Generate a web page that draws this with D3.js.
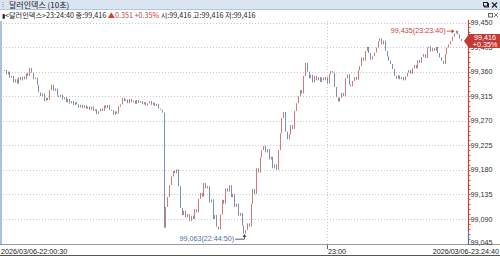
<!DOCTYPE html>
<html><head><meta charset="utf-8">
<script src="https://cdn.jsdelivr.net/npm/d3@7"></script>
<style>
html,body{margin:0;padding:0;background:#fff;overflow:hidden;}
svg{display:block;}
</style></head>
<body>
<svg id="c" width="500" height="256"></svg>
<script>
// ---------------- data ----------------
const chartTitle = "달러인덱스 (10초)";
const symbolName = "달러인덱스";
const infoTime = "23:24:40";
const firstCandleTime = "22:00:40";
const stepSeconds = 20;
const domainStart = "22:00:30";
const domainEnd = "23:24:40";
const closes = [
 99.363, 99.355, 99.360, 99.349, 99.352, 99.340, 99.346, 99.338, 99.350, 99.344,
 99.351, 99.346, 99.357, 99.352, 99.367, 99.358, 99.346, 99.349, 99.336, 99.322,
 99.315, 99.320, 99.306, 99.312, 99.308, 99.326, 99.336, 99.325, 99.329, 99.316,
 99.313, 99.318, 99.309, 99.313, 99.304, 99.310, 99.302, 99.306, 99.299, 99.304,
 99.300, 99.294, 99.299, 99.293, 99.298, 99.292, 99.296, 99.290, 99.296, 99.288,
 99.291, 99.282, 99.287, 99.292, 99.288, 99.298, 99.293, 99.299, 99.290, 99.289,
 99.281, 99.287, 99.283, 99.296, 99.300, 99.312, 99.306, 99.309, 99.302, 99.310,
 99.304, 99.307, 99.301, 99.308, 99.303, 99.306, 99.300, 99.304, 99.298, 99.302,
 99.306, 99.299, 99.303, 99.297, 99.301, 99.292, 99.290, 99.285,
 99.074, 99.112, 99.130, 99.152, 99.168, 99.178, 99.174, 99.181, 99.150, 99.110,
 99.097, 99.105, 99.093, 99.099, 99.086, 99.096, 99.090, 99.108, 99.102, 99.127,
 99.138, 99.131, 99.156, 99.146, 99.150, 99.120, 99.126, 99.090, 99.097, 99.076,
 99.071, 99.098, 99.125, 99.118, 99.146, 99.140, 99.152, 99.130, 99.136, 99.112,
 99.118, 99.096, 99.101, 99.078, 99.063,
 99.070, 99.082, 99.076, 99.118, 99.145, 99.136, 99.183, 99.175, 99.203, 99.216,
 99.224, 99.212, 99.218, 99.199, 99.204, 99.183, 99.190, 99.180, 99.216, 99.247,
 99.275, 99.286, 99.250, 99.236, 99.245, 99.262, 99.255, 99.288, 99.302, 99.315,
 99.326, 99.320, 99.352, 99.376, 99.360, 99.348, 99.354, 99.340, 99.352, 99.344,
 99.350, 99.341, 99.349, 99.344, 99.350, 99.338, 99.355, 99.361, 99.358, 99.332,
 99.313, 99.305, 99.312, 99.321, 99.315, 99.348, 99.355, 99.336, 99.333, 99.343,
 99.350, 99.345, 99.362, 99.370, 99.386, 99.380, 99.398, 99.405, 99.394, 99.382,
 99.388, 99.395, 99.404, 99.416, 99.421, 99.410, 99.417, 99.398, 99.388, 99.380,
 99.374, 99.365, 99.352, 99.347, 99.353, 99.346, 99.350, 99.344, 99.351, 99.358,
 99.363, 99.356, 99.366, 99.372, 99.366, 99.381, 99.376, 99.387, 99.392, 99.385,
 99.404, 99.406, 99.397, 99.403, 99.398, 99.405, 99.394, 99.386, 99.380, 99.374,
 99.392, 99.404, 99.410, 99.416, 99.424, 99.430, 99.435, 99.428, 99.420, 99.416
];
const prevClose = 99.065;
const infoLabels = ["종", "시", "고", "저"];
const infoValues = [99.416, 99.416, 99.416, 99.416];
const yTicks = [99.045, 99.090, 99.135, 99.180, 99.225, 99.270, 99.315, 99.360, 99.405, 99.450];
const yDomain = [99.045, 99.450];
const xTickTimes = ["23:00:00"];
const xTickLabels = ["23:00"];
const xEdgeLabels = ["2026/03/06-22:00:30", "2026/03/06-23:24:40"];
const markValues = [99.435, 99.063];
const markTimes = ["23:23:40", "22:44:50"];

// ---------------- helpers ----------------
const fmt = v => d3.format(".3f")(v).replace(".", ",");
const parseT = d3.timeParse("%H:%M:%S");
const NUMF = "'Liberation Sans', Arial, sans-serif";
const KRF = "'Noto Sans CJK KR', 'Liberation Sans', sans-serif";
const RED = "#c8413b", BLUE = "#4d72a8";
const UP = "#d3797a", DOWN = "#7891b6";

const svg = d3.select("#c");
const W = 500, H = 256;
const plot = {left: 3, right: 467, top: 21, bottom: 244.5};
const axisX = 468;

const x = d3.scaleTime().domain([parseT(domainStart), parseT(domainEnd)]).range([3, 461]);
const y = d3.scaleLinear().domain(yDomain).range([243.5, 22.5]);

const t0 = parseT(firstCandleTime).getTime();
const candles = closes.map((c, i) => ({
  t: new Date(t0 + i * stepSeconds * 1000),
  open: i === 0 ? c : closes[i - 1],
  close: c
}));

svg.append("rect").attr("width", W).attr("height", H).attr("fill", "#fff");

// title bar
svg.append("rect").attr("x", 0).attr("y", 0).attr("width", W).attr("height", 9.5).attr("fill", "#dbe5f1");
svg.append("line").attr("x1", 0).attr("x2", W).attr("y1", 9.5).attr("y2", 9.5).attr("stroke", "#b7c7db");
[2, 4, 6].forEach(yy => svg.append("rect").attr("x", 2.5).attr("y", yy).attr("width", 1).attr("height", 1).attr("fill", "#8a9bb0"));
svg.append("text").attr("x", 9).attr("y", 8).attr("font-family", KRF).attr("font-size", 8)
  .attr("fill", "#1a1a1a").text(chartTitle);
// window buttons
svg.append("rect").attr("x", 484.5).attr("y", 3.5).attr("width", 4).attr("height", 3.5).attr("fill", "none").attr("stroke", "#222").attr("stroke-width", 1);
svg.append("rect").attr("x", 483.5).attr("y", 2.5).attr("width", 4).attr("height", 3.5).attr("fill", "#dbe5f1").attr("stroke", "#222").attr("stroke-width", 1);
svg.append("path").attr("d", "M492,2.5 L497,7.5 M497,2.5 L492,7.5").attr("stroke", "#222").attr("stroke-width", 1.2);

// info line
const last = closes[closes.length - 1];
const chg = last - prevClose;
const pct = chg / prevClose * 100;
const info = svg.append("text").attr("x", 2).attr("y", 18).attr("font-family", KRF).attr("font-size", 7.2).attr("fill", "#222");
info.append("tspan").text("▮").attr("font-size", 6);
info.append("tspan").text("<" + symbolName + ">" + infoTime + " " + infoLabels[0] + ":" + fmt(infoValues[0]) + " ");
info.append("tspan").attr("fill", RED).text("▲" + d3.format(".3f")(chg) + " +" + d3.format(".2f")(pct) + "% ");
info.append("tspan").text(infoLabels.slice(1).map((l, i) => l + ":" + fmt(infoValues[i + 1])).join(" "));

// small icons at right under title
svg.append("rect").attr("x", 488.5).attr("y", 13.5).attr("width", 4).attr("height", 3.5).attr("fill", "none").attr("stroke", "#666");
svg.append("path").attr("d", "M494,13 L498,17 M498,13 L494,17").attr("stroke", "#666").attr("stroke-width", 0.9);

// left stripe
svg.append("rect").attr("x", 0).attr("y", plot.top).attr("width", 2).attr("height", plot.bottom - plot.top).attr("fill", "#a9c0de");

// grid
svg.append("g").selectAll("line").data(yTicks).join("line")
  .attr("x1", plot.left).attr("x2", axisX - 1)
  .attr("y1", d => Math.round(y(d)) + 0.5).attr("y2", d => Math.round(y(d)) + 0.5)
  .attr("stroke", "#c9c9c9").attr("stroke-dasharray", "1,2");
svg.append("g").selectAll("line").data(xTickTimes).join("line")
  .attr("x1", d => Math.round(x(parseT(d))) + 0.5).attr("x2", d => Math.round(x(parseT(d))) + 0.5)
  .attr("y1", plot.top).attr("y2", plot.bottom)
  .attr("stroke", "#c9c9c9").attr("stroke-dasharray", "1,2");

// candles
svg.append("defs").append("clipPath").attr("id", "pc").append("rect")
  .attr("x", plot.left).attr("y", plot.top).attr("width", axisX - plot.left).attr("height", plot.bottom - plot.top);
svg.append("g").attr("clip-path", "url(#pc)").selectAll("rect").data(candles).join("rect")
  .attr("x", d => Math.round(x(d.t)))
  .attr("width", 1)
  .attr("y", d => Math.min(y(d.open), y(d.close)))
  .attr("height", d => Math.max(1, Math.abs(y(d.open) - y(d.close))))
  .attr("fill", d => d.close >= d.open ? UP : DOWN);

// bottom axis line
svg.append("line").attr("x1", 0).attr("x2", W).attr("y1", 244.5).attr("y2", 244.5).attr("stroke", "#9a9a9a");
svg.append("line").attr("x1", 0).attr("x2", W).attr("y1", 255.5).attr("y2", 255.5).attr("stroke", "#555");

// right axis
const yPrev = y(prevClose);
svg.append("line").attr("x1", axisX + 0.5).attr("x2", axisX + 0.5).attr("y1", 20).attr("y2", yPrev).attr("stroke", RED).attr("stroke-width", 1.2);
svg.append("line").attr("x1", axisX + 0.5).attr("x2", axisX + 0.5).attr("y1", yPrev).attr("y2", 245).attr("stroke", BLUE).attr("stroke-width", 1.2);
const minorTicks = d3.range(0, 46).map(k => yDomain[0] + k * 0.009);
svg.append("g").selectAll("line").data(minorTicks).join("line")
  .attr("x1", axisX + 1).attr("x2", axisX + 2.5)
  .attr("y1", d => Math.round(y(d)) + 0.5).attr("y2", d => Math.round(y(d)) + 0.5)
  .attr("stroke", d => d >= prevClose ? RED : BLUE).attr("stroke-width", 0.8);
svg.append("g").selectAll("text").data(yTicks).join("text")
  .attr("x", axisX + 2.5).attr("y", (d, i) => y(d) + (i === 0 ? 1.2 : 2.6))
  .attr("font-family", NUMF).attr("font-size", 7.2).attr("fill", "#333")
  .text(fmt);

// x labels
svg.append("text").attr("x", 1).attr("y", 254).attr("font-family", NUMF).attr("font-size", 7.2).attr("fill", "#222").text(xEdgeLabels[0]);
svg.append("text").attr("x", 499).attr("y", 254).attr("text-anchor", "end").attr("font-family", NUMF).attr("font-size", 7.2).attr("fill", "#222").text(xEdgeLabels[1]);
xTickTimes.forEach((tt, i) => {
  const xx = Math.round(x(parseT(tt))) + 0.5;
  svg.append("line").attr("x1", xx).attr("x2", xx).attr("y1", 245).attr("y2", 249).attr("stroke", "#666");
  svg.append("text").attr("x", xx + 0.5).attr("y", 254).attr("font-family", NUMF).attr("font-size", 7.2).attr("fill", "#222").text(xTickLabels[i]);
});

// max annotation
{
  const px = x(parseT(markTimes[0])), py = y(markValues[0]);
  svg.append("text").attr("x", px - 10).attr("y", py + 2.5).attr("text-anchor", "end")
    .attr("font-family", NUMF).attr("font-size", 7.2).attr("fill", RED)
    .text(fmt(markValues[0]) + "(" + markTimes[0] + ")");
  svg.append("line").attr("x1", px - 9).attr("x2", px - 3).attr("y1", py + 0.5).attr("y2", py + 0.5).attr("stroke", RED).attr("stroke-width", 0.8);
  svg.append("path").attr("d", `M${px - 1},${py + 0.5} L${px - 4},${py - 1.5} L${px - 4},${py + 2.5} Z`).attr("fill", RED);
}
// min annotation
{
  const px = x(parseT(markTimes[1])), py = y(markValues[1]);
  svg.append("text").attr("x", px - 10).attr("y", py + 7.5).attr("text-anchor", "end")
    .attr("font-family", NUMF).attr("font-size", 7.2).attr("fill", BLUE)
    .text(fmt(markValues[1]) + "(" + markTimes[1] + ")");
  svg.append("path").attr("d", `M${px - 9},${py + 5.5} L${Math.round(px) + 0.5},${py + 5.5} L${Math.round(px) + 0.5},${py + 2.5}`)
    .attr("fill", "none").attr("stroke", "#333").attr("stroke-width", 0.8);
  svg.append("path").attr("d", `M${Math.round(px) + 0.5},${py + 0.5} L${Math.round(px) - 1.5},${py + 3} L${Math.round(px) + 2.5},${py + 3} Z`).attr("fill", "#333");
}

// last price tag
{
  const py = y(last);
  svg.append("path").attr("d", `M${axisX - 4},${py} L${axisX + 1},${py - 7} L500,${py - 7} L500,${py + 7} L${axisX + 1},${py + 7} Z`)
    .attr("fill", "#c23a33");
  svg.append("text").attr("x", 485).attr("y", py - 0.8).attr("text-anchor", "middle")
    .attr("font-family", NUMF).attr("font-size", 7.2).attr("fill", "#fff").text(fmt(last));
  svg.append("text").attr("x", 485).attr("y", py + 5.8).attr("text-anchor", "middle")
    .attr("font-family", NUMF).attr("font-size", 7.2).attr("fill", "#fff").text("+" + d3.format(".2f")(pct) + "%");
}
</script>
</body></html>
